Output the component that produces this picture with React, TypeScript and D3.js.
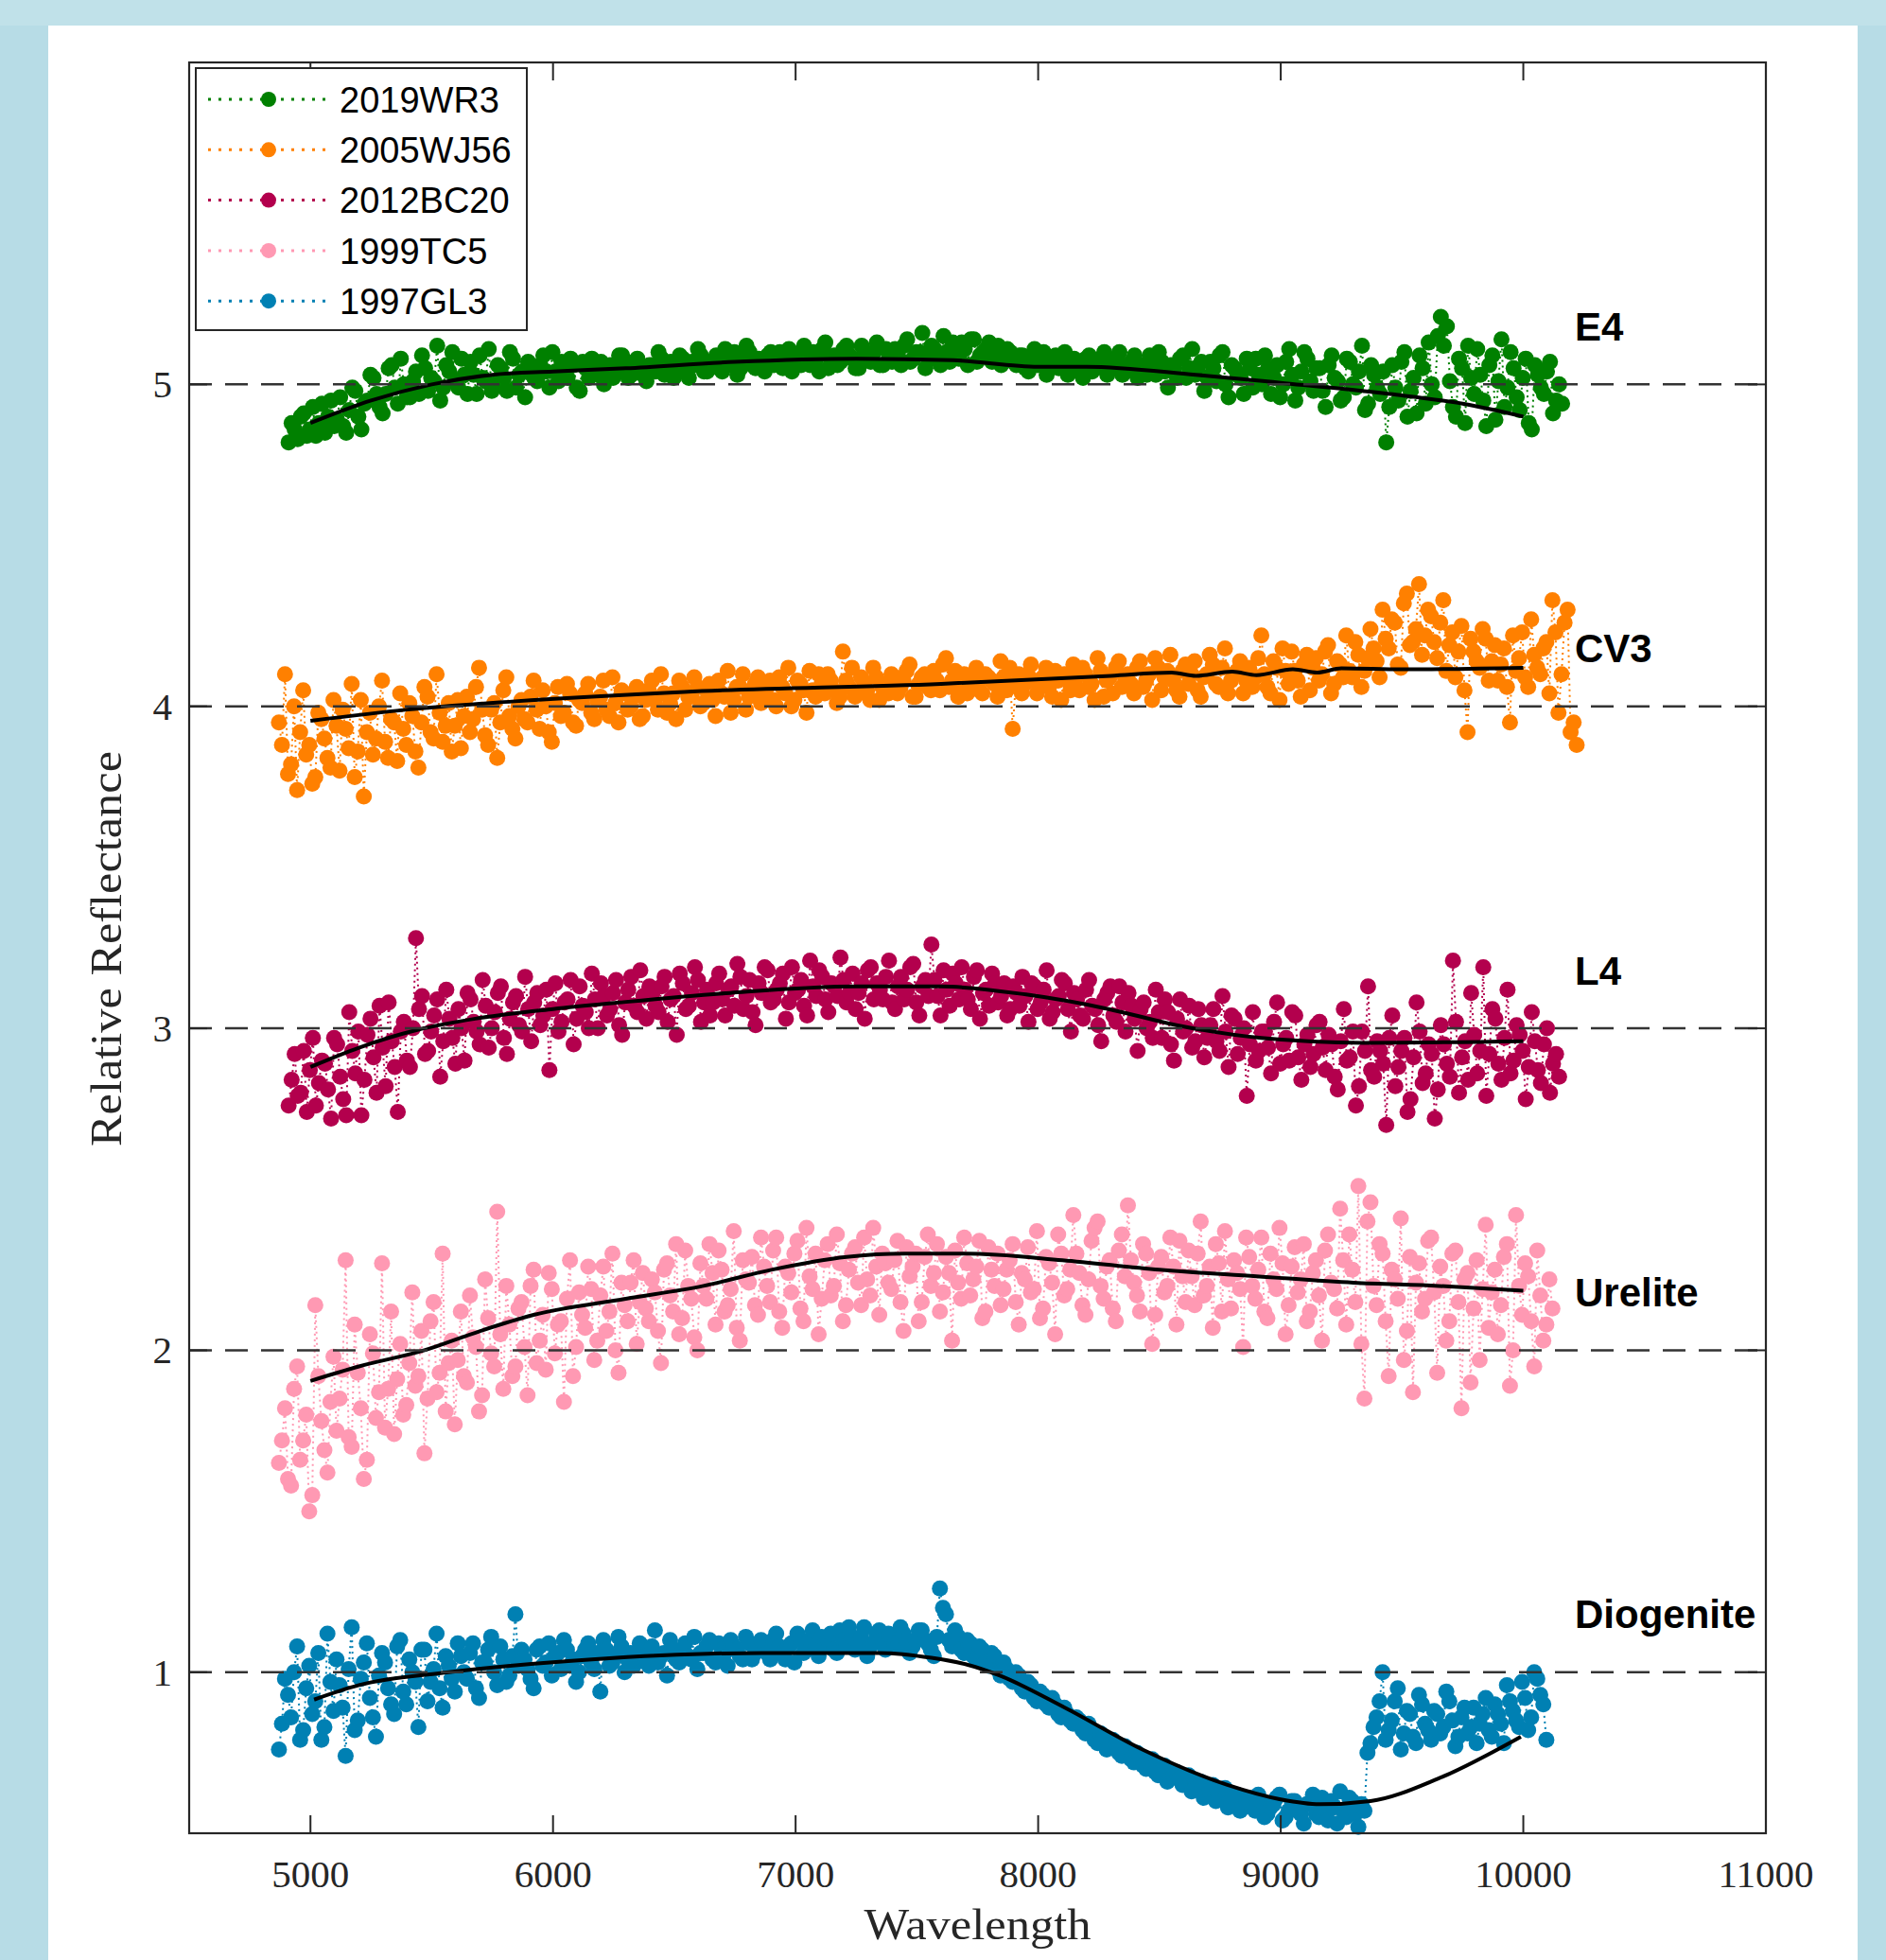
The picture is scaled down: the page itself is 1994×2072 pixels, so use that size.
import * as React from "react";
import * as d3 from "d3";

const W = 1994;
const H = 2072;
const STEP = 25; // spectral sampling in Angstrom, second set is read half a step later

const names = ["2019WR3", "2005WJ56", "2012BC20", "1999TC5", "1997GL3"];
const colors = ["#008000", "#ff8000", "#b3004d", "#ff99b3", "#0080b3"];
const classes = ["E4", "CV3", "L4", "Urelite", "Diogenite"];
const offsets = [5, 4, 3, 2, 1];
const starts = [4910, 4870, 4910, 4870, 4870];

const xTicks = [5000, 6000, 7000, 8000, 9000, 10000, 11000];
const yTicks = [1, 2, 3, 4, 5];

// 2019WR3 (offset +4)
const wr3 = [
  4.82, 4.86, 4.9, 4.84, 4.93, 4.88, 4.85, 4.95, 4.89, 4.87,
  4.92, 4.98, 4.86, 4.95, 5.02, 4.93, 4.97, 5.06, 4.94, 5.0,
  4.96, 5.04, 5.09, 4.98, 5.01, 4.95, 5.06, 5.1, 4.99, 5.03,
  5.07, 4.97, 5.02, 5.11, 5.0, 5.05, 4.98, 5.08, 5.03, 4.96,
  5.05, 5.01, 5.09, 4.99, 5.04, 5.07, 5.02, 5.06, 4.98, 5.05,
  5.08, 5.03, 5.0, 5.06, 5.04, 5.09, 5.02, 5.07, 5.05, 5.01,
  5.06, 5.1, 5.03, 5.07, 5.04, 5.08, 5.02, 5.06, 5.09, 5.04,
  5.07, 5.05, 5.11, 5.06, 5.03, 5.08, 5.1, 5.05, 5.07, 5.09,
  5.06, 5.1, 5.07, 5.04, 5.09, 5.12, 5.06, 5.08, 5.11, 5.05,
  5.09, 5.07, 5.12, 5.08, 5.05, 5.1, 5.07, 5.13, 5.06, 5.09,
  5.11, 5.06, 5.14, 5.08, 5.1, 5.05, 5.12, 5.09, 5.15, 5.07,
  5.1, 5.13, 5.06, 5.14, 5.09, 5.11, 5.07, 5.12, 5.08, 5.1,
  5.06, 5.09, 5.04, 5.11, 5.07, 5.03, 5.08, 5.05, 5.1, 5.04,
  5.07, 5.02, 5.09, 5.05, 5.08, 5.03, 5.06, 5.1, 5.04, 5.07,
  5.02, 5.06, 5.09, 5.03, 5.07, 4.99, 5.05, 5.08, 5.02, 5.11,
  5.04, 4.98, 5.07, 5.01, 5.1, 4.96, 5.05, 5.02, 5.08, 4.99,
  5.03, 5.09, 4.97, 5.06, 5.0, 5.11, 4.95, 5.04, 5.08, 4.98,
  5.05, 4.93, 5.09, 5.01, 4.96, 5.07, 4.99, 5.12, 4.94, 5.03,
  4.97, 4.82, 5.06, 4.95, 5.1, 4.98, 4.91, 5.05, 5.13, 4.96,
  5.21, 5.18, 4.93, 5.08, 4.88, 5.02, 5.11, 4.95, 5.06, 4.89,
  5.14, 4.99, 5.05, 4.92, 5.08, 4.86, 5.03, 4.97, 5.07, 4.95,
  4.94,
];
const wr3b = [
  4.88, 4.83, 4.91, 4.86, 4.84, 4.94, 4.9, 4.87, 4.96, 4.85,
  4.99, 4.9, 4.94, 5.03, 4.97, 4.91, 5.05, 4.99, 5.08, 4.96,
  5.01, 4.97, 5.05, 5.02, 5.12, 4.99, 5.04, 5.01, 5.08, 4.97,
  5.03, 5.09, 5.01, 4.98, 5.06, 5.02, 5.1, 4.99, 5.04, 5.07,
  5.02, 5.06, 5.04, 5.1, 5.01, 5.03, 5.08, 4.99, 5.07, 5.02,
  5.05, 5.07, 5.04, 5.02, 5.09, 5.06, 5.03, 5.08, 5.03, 5.06,
  5.04, 5.08, 5.06, 5.02, 5.09, 5.05, 5.07, 5.11, 5.04, 5.06,
  5.09, 5.04, 5.07, 5.1, 5.05, 5.12, 5.06, 5.08, 5.04, 5.1,
  5.08, 5.05, 5.11, 5.09, 5.06, 5.08, 5.1, 5.04, 5.13, 5.08,
  5.06, 5.11, 5.09, 5.05, 5.12, 5.08, 5.1, 5.06, 5.11, 5.07,
  5.09, 5.12, 5.07, 5.1, 5.16, 5.08, 5.11, 5.06, 5.1, 5.13,
  5.08, 5.11, 5.14, 5.07, 5.1, 5.13, 5.09, 5.06, 5.11, 5.07,
  5.09, 5.05, 5.08, 5.06, 5.1, 5.05, 5.09, 5.07, 5.03, 5.08,
  5.05, 5.08, 5.04, 5.07, 5.1, 5.05, 5.08, 5.03, 5.06, 5.09,
  5.05, 5.03, 5.07, 5.1, 5.04, 5.06, 5.02, 5.09, 5.05, 5.03,
  5.07, 5.02, 5.05, 5.09, 5.0, 5.06, 5.03, 4.97, 5.05, 5.08,
  5.0, 5.05, 5.02, 4.96, 5.07, 5.03, 4.99, 5.1, 5.01, 5.05,
  4.98, 5.06, 5.02, 4.95, 5.08, 5.0, 5.04, 4.92, 5.06, 4.99,
  5.04, 4.93, 4.99, 5.07, 4.9, 5.02, 5.09, 4.94, 5.0, 5.15,
  5.12, 5.01, 4.9, 5.05, 5.12, 4.97, 5.03, 4.87, 5.09, 5.01,
  4.93, 5.1, 4.96, 5.02, 4.88, 5.06, 4.99, 5.04, 4.91, 5.0,
];

// 2005WJ56 (offset +3)
const wj56 = [
  3.95, 4.1, 3.82, 3.74, 4.05, 3.88, 3.78, 3.96, 3.84, 4.02,
  3.8, 3.93, 4.07, 3.86, 3.72, 3.98, 3.9, 4.08, 3.84, 3.95,
  4.04, 3.88, 3.97, 3.81, 4.06, 3.92, 4.1, 3.89, 4.01, 3.94,
  3.87, 4.03, 3.96, 4.12, 3.91, 3.99, 3.84, 4.05, 3.97, 3.9,
  4.02, 3.95, 4.08, 3.93, 4.0, 3.89, 4.06, 3.98, 4.04, 3.94,
  4.01, 4.07, 3.96, 4.03, 3.99, 4.09, 3.95, 4.04, 4.0, 4.06,
  3.97, 4.05, 4.02, 4.1, 3.98, 4.04, 4.08, 3.99, 4.03, 4.06,
  4.01, 4.07, 3.97, 4.04, 4.11, 4.02, 4.06, 3.99, 4.05, 4.09,
  4.03, 4.08, 4.0, 4.06, 4.12, 4.02, 4.07, 3.98, 4.05, 4.1,
  4.04, 4.08, 4.01, 4.17, 4.06, 4.03, 4.09, 4.05, 4.12, 4.02,
  4.07, 4.1, 4.04, 4.08, 4.13, 4.03, 4.09, 4.06, 4.11, 4.05,
  4.15, 4.08, 4.03, 4.1, 4.06, 4.12, 4.04, 4.09, 4.07, 4.14,
  4.05, 3.93, 4.1, 4.07, 4.13, 4.04, 4.09, 4.06, 4.11, 4.02,
  4.08, 4.13, 4.05, 4.1, 4.07, 4.15, 4.03, 4.09, 4.12, 4.06,
  4.1, 4.04, 4.14, 4.08, 4.02, 4.12, 4.09, 4.16, 4.05, 4.11,
  4.07, 4.14, 4.03, 4.1, 4.13, 4.06, 4.18, 4.08, 4.11, 4.04,
  4.12, 4.09, 4.22, 4.06, 4.14, 4.02, 4.11, 4.17, 4.08, 4.13,
  4.05, 4.15, 4.1, 4.19, 4.07, 4.13, 4.22, 4.09, 4.16, 4.11,
  4.24, 4.14, 4.3, 4.18, 4.26, 4.12, 4.35, 4.2, 4.38, 4.22,
  4.28, 4.15, 4.33, 4.19, 4.09, 4.25, 3.92, 4.17, 4.12, 4.21,
  4.14, 4.08, 4.18, 3.95, 4.11, 4.23, 4.06, 4.16, 4.1, 4.2,
  4.33, 3.98, 4.26, 3.92, 3.88,
];
const wj56b = [
  3.88, 3.79, 4.0, 3.92, 3.85, 3.76, 3.98, 3.9, 3.81, 3.94,
  3.99, 3.87, 3.78, 4.02, 3.92, 3.85, 4.0, 3.89, 3.96, 3.83,
  3.93, 4.01, 3.86, 3.95, 4.03, 3.9, 3.98, 3.94, 3.86, 4.02,
  3.97, 3.92, 4.06, 3.99, 3.88, 4.01, 3.95, 4.09, 3.93, 4.0,
  3.96, 4.03, 3.99, 4.05, 3.92, 4.01, 3.97, 4.07, 3.95, 4.02,
  4.04, 3.98, 4.02, 4.08, 3.97, 4.01, 4.05, 3.99, 4.03, 3.96,
  4.02, 4.08, 3.99, 4.04, 4.01, 3.96, 4.06, 4.03, 4.09, 4.0,
  4.05, 4.02, 4.08, 4.03, 3.98, 4.06, 4.1, 4.03, 4.07, 4.01,
  4.06, 4.02, 4.09, 4.04, 4.0, 4.08, 4.05, 4.11, 4.03, 4.07,
  4.1, 4.05, 4.03, 4.08, 4.12, 4.04, 4.07, 4.02, 4.09, 4.06,
  4.04, 4.09, 4.06, 4.11, 4.03, 4.07, 4.1, 4.05, 4.08, 4.13,
  4.06, 4.11, 4.07, 4.04, 4.09, 4.05, 4.1, 4.08, 4.03, 4.09,
  4.12, 4.07, 4.04, 4.1, 4.08, 4.06, 4.12, 4.03, 4.08, 4.1,
  4.05, 4.09, 4.12, 4.06, 4.02, 4.11, 4.08, 4.04, 4.14, 4.09,
  4.07, 4.12, 4.06, 4.1, 4.15, 4.05, 4.11, 4.08, 4.03, 4.13,
  4.1, 4.05, 4.09, 4.16, 4.07, 4.12, 4.04, 4.1, 4.14, 4.08,
  4.06, 4.15, 4.1, 4.04, 4.12, 4.18, 4.07, 4.11, 4.03, 4.16,
  4.12, 4.08, 4.17, 4.04, 4.14, 4.09, 4.11, 4.2, 4.06, 4.15,
  4.18, 4.09, 4.21, 4.27, 4.13, 4.32, 4.19, 4.24, 4.16, 4.3,
  4.2, 4.26, 4.11, 4.23, 4.17, 4.05, 4.21, 4.14, 4.24, 4.08,
  4.19, 4.13, 4.06, 4.22, 4.15, 4.09, 4.27, 4.12, 4.18, 4.04,
  4.23, 4.1, 4.3, 3.95,
];

// 2012BC20 (offset +2)
const bc20 = [
  2.76, 2.92, 2.8, 2.74, 2.97, 2.83, 2.89, 2.72, 2.95, 2.78,
  3.05, 2.86, 2.73, 2.98, 2.91, 3.07, 2.82, 2.96, 2.74, 3.02,
  2.88, 3.28, 3.1, 2.93, 3.04, 2.85, 3.12, 2.97, 3.06, 2.9,
  3.09, 2.99, 3.15, 2.94, 3.05, 3.13, 2.92, 3.08, 3.01, 3.16,
  2.96, 3.11, 3.04, 2.87, 3.14, 3.02, 3.09, 2.95, 3.13, 3.05,
  3.17, 3.0, 3.1, 3.06, 3.15, 2.98, 3.12, 3.07, 3.18, 3.03,
  3.11, 3.05, 3.16, 3.09, 2.98, 3.14, 3.07, 3.19, 3.02, 3.12,
  3.08, 3.17, 3.04, 3.13, 3.2, 3.06, 3.15, 3.01, 3.11, 3.18,
  3.09, 3.14, 3.03, 3.19, 3.12, 3.07, 3.21, 3.1, 3.16, 3.05,
  3.13, 3.22, 3.08, 3.17, 3.11, 3.03, 3.19, 3.14, 3.09, 3.21,
  3.06, 3.16, 3.12, 3.2, 3.04, 3.15, 3.26, 3.1, 3.18, 3.07,
  3.14, 3.19, 3.09, 3.16, 3.03, 3.12, 3.17, 3.08, 3.14, 3.06,
  3.11, 3.16, 3.02, 3.13, 3.08, 3.18, 3.05, 3.1, 3.14, 2.99,
  3.09, 3.03, 3.15, 3.06, 2.96, 3.11, 3.04, 3.13, 2.99, 3.07,
  2.93, 3.08, 3.02, 3.12, 2.97, 3.05, 2.9, 3.09, 3.0, 2.94,
  3.06, 2.91, 3.01, 2.96, 3.1, 2.88, 3.03, 2.97, 2.79, 3.05,
  2.93, 2.99, 2.86, 3.08, 2.95, 2.9, 3.04, 2.84, 2.98, 2.92,
  3.02, 2.87, 2.95, 2.81, 3.06, 2.91, 2.76, 2.99, 3.13, 2.85,
  2.93, 2.7, 3.04, 2.88, 2.97, 2.78, 3.08, 2.83, 2.95, 2.72,
  3.01, 2.89, 3.21, 2.8, 2.96, 3.11, 2.86, 3.19, 2.92, 3.03,
  2.84, 3.12, 2.9, 2.98, 2.78, 3.05, 2.87, 2.95, 2.8, 2.92,
];
const bc20b = [
  2.84, 2.79, 2.93, 2.87, 2.76, 2.9, 2.81, 2.97, 2.85, 2.73,
  2.93, 2.99, 2.84, 3.03, 2.8, 2.94, 3.08, 2.88, 2.99, 2.9,
  3.0, 3.06, 2.92, 2.99, 3.09, 2.96, 3.03, 2.89, 3.0, 3.11,
  3.02, 2.95, 3.07, 3.0, 3.11, 2.97, 3.03, 3.1, 2.99, 3.06,
  3.08, 3.01, 3.12, 3.06, 2.99, 3.08, 3.15, 3.03, 3.07, 3.0,
  3.09, 3.14, 3.04, 3.11, 3.01, 3.08, 3.16, 3.05, 3.1, 3.13,
  3.07, 3.13, 3.02, 3.1, 3.17, 3.06, 3.11, 3.15, 3.08, 3.04,
  3.14, 3.09, 3.12, 3.07, 3.16, 3.1, 3.05, 3.14, 3.19, 3.08,
  3.12, 3.17, 3.08, 3.11, 3.15, 3.04, 3.13, 3.18, 3.09, 3.14,
  3.1, 3.15, 3.11, 3.06, 3.14, 3.18, 3.09, 3.12, 3.16, 3.08,
  3.13, 3.09, 3.19, 3.08, 3.13, 3.1, 3.15, 3.04, 3.12, 3.17,
  3.09, 3.12, 3.06, 3.18, 3.11, 3.07, 3.14, 3.1, 3.04, 3.13,
  3.07, 3.1, 3.14, 3.06, 3.12, 3.03, 3.09, 3.15, 3.06, 3.11,
  3.04, 3.12, 3.07, 3.01, 3.09, 3.13, 3.02, 3.08, 3.11, 3.03,
  3.06, 3.0, 2.97, 3.05, 3.09, 2.95, 3.03, 2.99, 3.07, 2.96,
  3.01, 2.97, 3.06, 2.93, 2.99, 3.04, 2.92, 3.0, 2.95, 2.9,
  2.99, 2.94, 3.02, 2.89, 2.97, 3.05, 2.91, 2.95, 2.88, 3.01,
  2.94, 2.98, 2.85, 2.96, 2.9, 2.99, 2.82, 2.93, 2.87, 2.96,
  2.89, 2.97, 2.82, 2.93, 2.74, 2.91, 2.99, 2.86, 2.92, 2.81,
  2.95, 2.85, 3.02, 2.91, 2.84, 2.98, 2.93, 2.79, 3.06, 2.89,
  2.97, 2.86, 3.01, 2.93, 2.88, 2.96, 2.83, 3.0, 2.89, 2.85,
];

// 1999TC5 (offset +1)
const tc5 = [
  1.65, 1.82, 1.58, 1.95, 1.72, 1.5, 2.14, 1.78, 1.62, 1.98,
  1.85, 2.28, 1.7, 1.93, 1.6, 2.05, 1.79, 2.27, 1.88, 1.74,
  2.02, 1.83, 2.18, 1.92, 1.68, 2.09, 1.87, 2.3, 1.96, 1.77,
  2.12, 1.9, 2.04, 1.81, 2.22, 1.99, 2.43, 1.88, 2.08, 1.95,
  2.15, 1.86, 2.25, 2.03, 1.94, 2.19, 2.08, 1.84, 2.28, 2.01,
  2.11, 2.26, 1.97, 2.17, 2.06, 2.3, 1.93, 2.14, 2.21, 2.02,
  2.24, 2.09, 2.18, 1.96, 2.27, 2.12, 2.05, 2.31, 2.16, 2.0,
  2.2, 2.33, 2.08, 2.25, 2.14, 2.37, 2.03, 2.22, 2.29, 2.11,
  2.26, 2.15, 2.35, 2.07, 2.24, 2.3, 2.13, 2.38, 2.19, 2.05,
  2.28, 2.17, 2.36, 2.09, 2.25, 2.32, 2.14, 2.22, 2.38, 2.11,
  2.27, 2.19, 2.34, 2.06, 2.23, 2.3, 2.15, 2.36, 2.24, 2.12,
  2.29, 2.03, 2.21, 2.35, 2.17, 2.26, 2.1, 2.32, 2.2, 2.14,
  2.25, 2.33, 2.08, 2.22, 2.18, 2.37, 2.13, 2.27, 2.05, 2.3,
  2.19, 2.42, 2.24, 2.11, 2.34, 2.4, 2.16, 2.28, 2.09, 2.36,
  2.45, 2.21, 2.12, 2.3, 2.02, 2.26, 2.18, 2.35, 2.08, 2.23,
  2.31, 2.14, 2.4, 2.2, 2.07, 2.27, 2.37, 2.13, 2.24, 2.01,
  2.29, 2.16, 2.35, 2.1, 2.22, 2.38, 2.05, 2.26, 2.18, 2.33,
  2.12, 2.28, 2.03, 2.36, 2.19, 2.44, 2.08, 2.25, 2.51, 1.85,
  2.46, 2.14, 2.3, 1.92, 2.22, 2.41, 2.06, 1.87, 2.27, 2.16,
  2.35, 1.93, 2.2, 2.09, 2.31, 1.82, 2.24, 2.13, 1.97, 2.39,
  2.18, 2.05, 2.29, 1.89, 2.42, 2.11, 2.23, 1.95, 2.17, 2.08,
  2.13,
];
const tc5b = [
  1.72, 1.6, 1.88, 1.66, 1.8, 1.55, 1.92, 1.69, 1.84, 1.75,
  1.94, 1.73, 2.08, 1.82, 1.66, 1.99, 1.87, 1.76, 2.12, 1.91,
  1.8, 1.96, 1.89, 2.06, 1.85, 2.15, 1.93, 1.81, 2.03, 1.97,
  1.92, 2.17, 2.01, 1.86, 2.1, 1.95, 2.05, 2.2, 1.92, 2.13,
  2.01, 2.2, 1.96, 2.11, 2.24, 1.99, 2.09, 2.16, 1.92, 2.18,
  2.07, 2.19, 2.03, 2.26, 2.12, 2.0, 2.21, 2.09, 2.28, 2.15,
  2.13, 2.22, 2.06, 2.25, 2.17, 2.33, 2.1, 2.2, 2.04, 2.27,
  2.16, 2.24, 2.31, 2.12, 2.19, 2.07, 2.28, 2.21, 2.14, 2.35,
  2.2, 2.31, 2.12, 2.26, 2.18, 2.34, 2.09, 2.23, 2.3, 2.16,
  2.33, 2.2, 2.27, 2.14, 2.3, 2.21, 2.35, 2.17, 2.26, 2.3,
  2.21, 2.28, 2.15, 2.32, 2.26, 2.09, 2.29, 2.2, 2.33, 2.18,
  2.24, 2.31, 2.16, 2.27, 2.22, 2.34, 2.12, 2.25, 2.3, 2.19,
  2.28, 2.15, 2.24, 2.32, 2.19, 2.1, 2.29, 2.21, 2.36, 2.17,
  2.25, 2.3, 2.14, 2.22, 2.38, 2.2, 2.26, 2.13, 2.31, 2.23,
  2.28, 2.17, 2.33, 2.24, 2.11, 2.29, 2.2, 2.26, 2.34, 2.15,
  2.23, 2.3, 2.17, 2.26, 2.33, 2.12, 2.22, 2.28, 2.19, 2.35,
  2.2, 2.25, 2.12, 2.3, 2.19, 2.27, 2.14, 2.32, 2.22, 2.09,
  2.24, 2.17, 2.31, 2.21, 2.13, 2.28, 2.36, 2.15, 2.02, 2.4,
  2.2, 2.33, 2.09, 2.25, 2.16, 1.97, 2.29, 2.21, 2.12, 2.34,
  2.18, 2.26, 2.03, 2.3, 2.15, 2.22, 1.9, 2.28, 2.19, 2.07,
  2.25, 2.14, 2.33, 2.0, 2.2, 2.27, 2.09, 2.31, 2.03, 2.22,
];

// 1997GL3 (no offset)
const gl3 = [
  0.76, 0.98, 0.86, 1.08, 0.82, 1.02, 0.91, 0.79, 1.12, 0.88,
  0.96, 0.74, 1.14, 0.85, 1.03, 0.92, 0.8, 1.06, 0.95, 0.87,
  1.1, 0.9, 1.0, 0.83, 1.07, 0.97, 1.12, 0.89, 1.02, 0.94,
  1.05, 0.98, 1.09, 0.92, 1.03, 1.11, 0.96, 1.04, 0.99, 1.18,
  1.07, 1.01, 0.95, 1.08, 1.03, 0.99, 1.06, 1.1, 1.02, 0.97,
  1.05, 1.09, 1.01, 0.94, 1.07, 1.03, 1.11, 1.0, 1.06, 1.04,
  1.08, 1.02, 1.13, 1.05, 0.99, 1.07, 1.03, 1.09, 1.04, 1.01,
  1.06, 1.1, 1.03, 1.07, 1.02, 1.08, 1.05, 1.11, 1.04, 1.07,
  1.09, 1.04, 1.12, 1.06, 1.08, 1.03, 1.1, 1.07, 1.13, 1.05,
  1.08, 1.12, 1.06, 1.1, 1.14, 1.07, 1.11, 1.05, 1.09, 1.13,
  1.07, 1.11, 1.08, 1.12, 1.06, 1.1, 1.13, 1.09, 1.05, 1.26,
  1.18, 1.08, 1.11, 1.06, 1.09, 1.04, 1.07, 1.02, 1.05, 0.99,
  1.01, 0.97, 0.99, 0.94, 0.96, 0.91, 0.93, 0.89, 0.9, 0.86,
  0.87, 0.84, 0.85, 0.81, 0.82, 0.78, 0.8, 0.77, 0.78, 0.74,
  0.76, 0.72, 0.74, 0.7, 0.73, 0.68, 0.71, 0.67, 0.69, 0.65,
  0.68, 0.64, 0.66, 0.62, 0.65, 0.61, 0.64, 0.6, 0.62, 0.59,
  0.61, 0.57, 0.6, 0.56, 0.59, 0.62, 0.55, 0.6, 0.58, 0.53,
  0.59, 0.56, 0.61, 0.54, 0.58, 0.63, 0.55, 0.6, 0.52, 0.57,
  0.78, 0.86, 1.0, 0.82, 0.91, 0.76, 0.88, 0.8, 0.93, 0.84,
  0.79, 0.87, 0.83, 0.91, 0.77, 0.86, 0.81, 0.89, 0.84, 0.92,
  0.8, 0.87, 0.78, 0.91, 0.85, 0.97, 0.82, 1.0, 0.93, 0.79,
];
const gl3b = [
  0.84, 0.93, 1.0, 0.79, 0.95, 0.87, 1.06, 0.83, 0.97, 1.04,
  0.89, 1.01, 0.82, 0.98, 1.09, 0.86, 0.99, 1.03, 0.9, 1.08,
  0.94, 1.04, 0.97, 1.07, 0.91, 1.01, 0.95, 1.05, 0.98, 1.09,
  1.0, 1.06, 0.95, 1.03, 1.07, 1.0, 1.08, 0.97, 1.05, 1.02,
  1.04, 0.98, 1.07, 1.02, 1.09, 1.05, 1.01, 1.07, 1.04, 1.0,
  1.07, 1.03, 1.06, 1.1, 1.02, 1.05, 1.08, 1.04, 1.02, 1.09,
  1.05, 1.08, 1.03, 1.06, 1.1, 1.04, 1.07, 1.05, 1.11, 1.06,
  1.08, 1.04, 1.09, 1.06, 1.1, 1.07, 1.04, 1.09, 1.06, 1.1,
  1.06, 1.1, 1.08, 1.04, 1.09, 1.12, 1.06, 1.1, 1.08, 1.11,
  1.1, 1.07, 1.13, 1.08, 1.11, 1.09, 1.14, 1.08, 1.12, 1.1,
  1.12, 1.09, 1.14, 1.1, 1.08, 1.13, 1.1, 1.07, 1.11, 1.2,
  1.1, 1.13, 1.07, 1.1, 1.05, 1.08, 1.03, 1.06, 1.01, 1.03,
  0.98, 1.0, 0.95, 0.97, 0.92, 0.94, 0.9, 0.92, 0.87, 0.89,
  0.85, 0.86, 0.82, 0.84, 0.79, 0.81, 0.76, 0.79, 0.75, 0.77,
  0.73, 0.75, 0.71, 0.72, 0.69, 0.7, 0.66, 0.68, 0.67, 0.66,
  0.63, 0.66, 0.61, 0.63, 0.6, 0.63, 0.58, 0.61, 0.57, 0.6,
  0.58, 0.62, 0.55, 0.58, 0.61, 0.54, 0.57, 0.6, 0.56, 0.59,
  0.62, 0.55, 0.58, 0.6, 0.53, 0.57, 0.61, 0.56, 0.59, 0.75,
  0.83, 0.91, 0.79, 0.85, 0.95, 0.81, 0.87, 0.78, 0.9, 0.82,
  0.88, 0.81, 0.94, 0.85, 0.8, 0.89, 0.83, 0.78, 0.87, 0.82,
  0.9, 0.84, 0.96, 0.88, 0.83, 0.92, 0.86, 0.98, 0.9,
];

// meteorite reference spectra (smooth black curves) [wavelength, reflectance]
const fitE4: [number, number][] = [
  [5000, 4.88], [5250, 4.95], [5500, 5.0], [5750, 5.03], [6000, 5.04], [6300, 5.05],
  [6750, 5.07], [7250, 5.08], [7650, 5.075], [8000, 5.055], [8200, 5.055], [8650, 5.03],
  [9000, 5.005], [9450, 4.97], [9750, 4.94], [10000, 4.9],
];
const fitCV3: [number, number][] = [
  [5000, 3.955], [5400, 3.99], [5830, 4.015], [6540, 4.045], [7600, 4.07], [8300, 4.095],
  [8550, 4.105], [8650, 4.095], [8800, 4.108], [8900, 4.097], [9050, 4.115], [9150, 4.105],
  [9250, 4.118], [9500, 4.115], [10000, 4.12],
];
const fitL4: [number, number][] = [
  [5000, 2.88], [5200, 2.94], [5440, 2.995], [5680, 3.03], [6000, 3.06], [6270, 3.08],
  [6730, 3.11], [7250, 3.13], [7600, 3.13], [7950, 3.105], [8290, 3.06], [8570, 3.01],
  [8920, 2.97], [9340, 2.955], [10000, 2.96],
];
const fitUre: [number, number][] = [
  [5000, 1.905], [5200, 1.95], [5470, 2.0], [5700, 2.06], [5920, 2.11], [6300, 2.16],
  [6620, 2.2], [6900, 2.25], [7210, 2.29], [7450, 2.3], [7700, 2.3], [8100, 2.28],
  [8500, 2.25], [8900, 2.23], [9300, 2.21], [9650, 2.2], [10000, 2.185],
];
const fitDio: [number, number][] = [
  [5015, 0.915], [5200, 0.96], [5570, 1.0], [6160, 1.04], [6860, 1.06], [7350, 1.06],
  [7560, 1.045], [7700, 1.025], [7840, 0.99], [8110, 0.89], [8430, 0.76], [8780, 0.65],
  [9000, 0.605], [9160, 0.59], [9370, 0.6], [9650, 0.67], [9990, 0.8],
];

const spectra = [wr3, wj56, bc20, tc5, gl3];
const spectraHalf = [wr3b, wj56b, bc20b, tc5b, gl3b];
const fits = [fitE4, fitCV3, fitL4, fitUre, fitDio];

const serif = "'Liberation Serif', 'Times New Roman', serif";
const sans = "'Liberation Sans', Arial, Helvetica, sans-serif";

export default function App() {
  const x = d3.scaleLinear().domain([4500, 11000]).range([200, 1867]);
  const y = d3.scaleLinear().domain([0.5, 6]).range([1938, 66]);
  const [x0, x1] = x.range();
  const [y0, y1] = y.range();
  const tickLen = 19;
  const R = 8.5;

  const dotted = d3
    .line<[number, number]>()
    .x((d) => x(d[0]))
    .y((d) => y(d[1]));
  const smooth = d3
    .line<[number, number]>()
    .x((d) => x(d[0]))
    .y((d) => y(d[1]))
    .curve(d3.curveMonotoneX);

  const series = spectra.map((vals, k) => {
    const a = vals.map((v, i) => [starts[k] + i * STEP, v] as [number, number]);
    const b = spectraHalf[k].map(
      (v, i) => [starts[k] + STEP / 2 + i * STEP, v] as [number, number]
    );
    return a.concat(b).sort((p, q) => p[0] - q[0]);
  });

  const legendY = (i: number) => 105 + i * 53.3;

  return (
    <svg
      width={W}
      height={H}
      style={{ position: "absolute", left: 0, top: 0 }}
      xmlns="http://www.w3.org/2000/svg"
    >
      <rect x={0} y={0} width={W} height={H} fill="#b7dce6" />
      <rect x={0} y={0} width={W} height={27} fill="#c0e1e9" />
      <rect x={51} y={27} width={1913} height={H - 27} fill="#ffffff" />

      {/* spectra */}
      {series.map((pts, k) => (
        <g key={names[k]}>
          <path
            d={dotted(pts) || ""}
            fill="none"
            stroke={colors[k]}
            strokeWidth={2}
            strokeDasharray="2,4"
          />
          {pts.map((p, i) => (
            <circle key={i} cx={x(p[0])} cy={y(p[1])} r={R} fill={colors[k]} />
          ))}
        </g>
      ))}

      {/* meteorite fits */}
      {fits.map((f, k) => (
        <path key={classes[k]} d={smooth(f) || ""} fill="none" stroke="#000" strokeWidth={4} />
      ))}

      {/* reference levels */}
      {yTicks.map((t) => (
        <line
          key={t}
          x1={x0}
          x2={x1}
          y1={y(t)}
          y2={y(t)}
          stroke="#333"
          strokeWidth={2.5}
          strokeDasharray="24,14"
        />
      ))}

      {/* class labels */}
      {classes.map((c, k) => (
        <text
          key={c}
          x={1665}
          y={y(offsets[k] + 0.18)}
          dy="0.35em"
          fontFamily={sans}
          fontWeight="bold"
          fontSize={42}
          fill="#000"
        >
          {c}
        </text>
      ))}

      {/* axes box and ticks */}
      <rect x={x0} y={y1} width={x1 - x0} height={y0 - y1} fill="none" stroke="#262626" strokeWidth={2.2} />
      {xTicks.map((t) => (
        <g key={t}>
          <line x1={x(t)} x2={x(t)} y1={y0} y2={y0 - tickLen} stroke="#262626" strokeWidth={2} />
          <line x1={x(t)} x2={x(t)} y1={y1} y2={y1 + tickLen} stroke="#262626" strokeWidth={2} />
          <text
            x={x(t)}
            y={y0 + 57}
            textAnchor="middle"
            fontFamily={serif}
            fontSize={41}
            fill="#262626"
          >
            {t}
          </text>
        </g>
      ))}
      {yTicks.map((t) => (
        <g key={t}>
          <line x1={x0} x2={x0 + tickLen} y1={y(t)} y2={y(t)} stroke="#262626" strokeWidth={2} />
          <line x1={x1} x2={x1 - tickLen} y1={y(t)} y2={y(t)} stroke="#262626" strokeWidth={2} />
          <text
            x={x0 - 18}
            y={y(t)}
            dy="0.34em"
            textAnchor="end"
            fontFamily={serif}
            fontSize={41}
            fill="#262626"
          >
            {t}
          </text>
        </g>
      ))}

      <text
        x={(x0 + x1) / 2}
        y={2050}
        textAnchor="middle"
        fontFamily={serif}
        fontSize={46}
        textLength={240}
        lengthAdjust="spacingAndGlyphs"
        fill="#262626"
      >
        Wavelength
      </text>
      <text
        transform={`translate(128, ${(y0 + y1) / 2 + 1}) rotate(-90)`}
        textAnchor="middle"
        fontFamily={serif}
        fontSize={46}
        textLength={418}
        lengthAdjust="spacingAndGlyphs"
        fill="#262626"
      >
        Relative Reflectance
      </text>

      {/* legend */}
      <rect x={207} y={72} width={350} height={277} fill="#fff" stroke="#262626" strokeWidth={2} />
      {names.map((n, i) => (
        <g key={n}>
          <line
            x1={220}
            x2={350}
            y1={legendY(i)}
            y2={legendY(i)}
            stroke={colors[i]}
            strokeWidth={3}
            strokeDasharray="3,8"
          />
          <circle cx={284} cy={legendY(i)} r={8} fill={colors[i]} />
          <text x={359} y={legendY(i)} dy="0.36em" fontFamily={sans} fontSize={38} fill="#000">
            {n}
          </text>
        </g>
      ))}
    </svg>
  );
}
